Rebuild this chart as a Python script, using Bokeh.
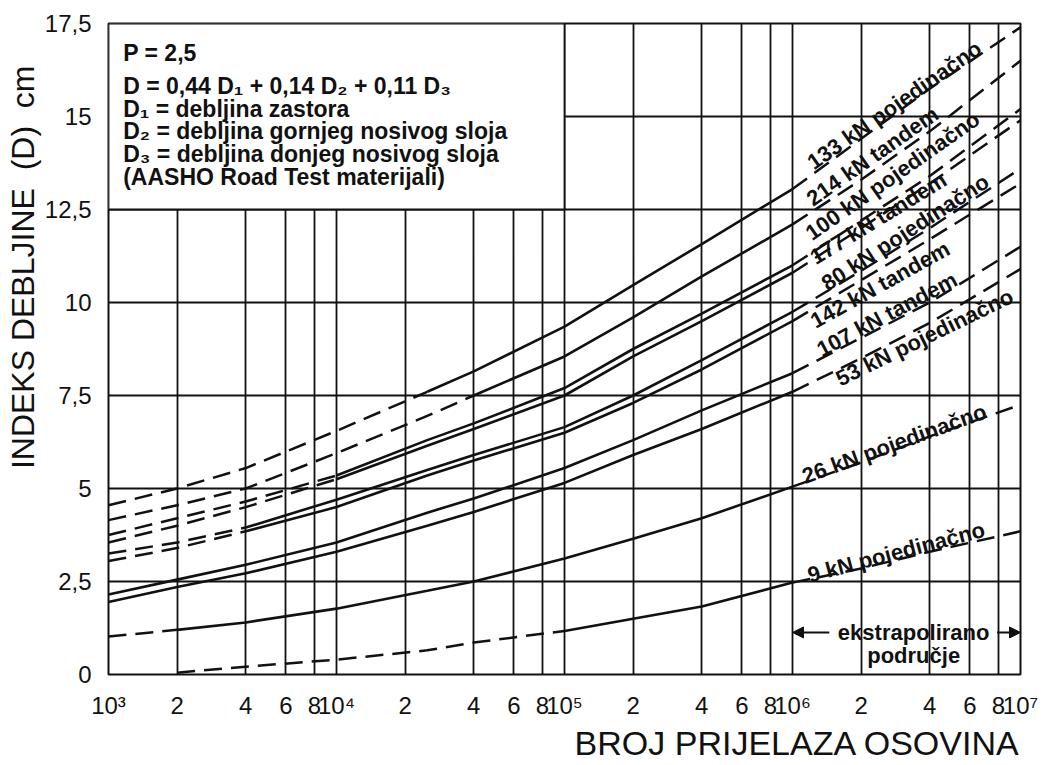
import math
from bokeh.plotting import figure
from bokeh.models import FixedTicker, Title, Label, Arrow, NormalHead, ColumnDataSource
from bokeh.core.properties import value
from bokeh.embed import file_html
from bokeh.resources import INLINE

nan = float("nan")

# number of axle passes (x) at which values were read
N = [1e3, 2e3, 4e3, 1e4, 2.5e4, 4e4, 1e5, 2e5, 4e5, 1e6, 2e6, 4e6, 1e7]

load_labels = ["133 kN pojedinačno", "214 kN tandem", "100 kN pojedinačno",
               "177 kN tandem", "80 kN pojedinačno", "142 kN tandem",
               "107 kN tandem", "53 kN pojedinačno", "26 kN pojedinačno",
               "9 kN pojedinačno"]

D_133 = [4.55, 5.0, 5.55, 6.55, 7.6, 8.15, 9.35, 10.47, 11.57, 13.05, 14.4, 15.75, 17.4]
D_214 = [4.15, 4.55, 5.0, 5.95, 6.95, 7.5, 8.55, 9.6, 10.7, 12.1, 13.3, 14.6, 16.5]
D_100 = [3.75, 4.2, 4.65, 5.35, 6.3, 6.75, 7.7, 8.75, 9.7, 11.0, 12.2, 13.4, 15.2]
D_177 = [3.55, 4.0, 4.5, 5.25, 6.15, 6.6, 7.5, 8.55, 9.5, 10.8, 12.0, 13.2, 14.9]
D_80 = [3.25, 3.55, 3.95, 4.7, 5.5, 5.9, 6.65, 7.5, 8.45, 9.75, 10.85, 12.0, 13.6]
D_142 = [3.05, 3.4, 3.85, 4.5, 5.35, 5.75, 6.5, 7.3, 8.2, 9.5, 10.6, 11.7, 13.2]
D_107 = [2.15, 2.55, 2.95, 3.55, 4.35, 4.73, 5.55, 6.3, 7.1, 8.1, 9.05, 10.0, 11.5]
D_53 = [1.95, 2.35, 2.72, 3.3, 4.0, 4.37, 5.15, 5.9, 6.6, 7.6, 8.5, 9.45, 10.9]
D_26 = [1.02, 1.2, 1.4, 1.77, 2.25, 2.5, 3.12, 3.65, 4.2, 5.05, 5.7, 6.4, 7.25]
D_9 = [nan, 0.05, 0.21, 0.4, 0.65, 0.86, 1.17, 1.5, 1.83, 2.47, 2.85, 3.3, 3.85]

curves = [D_133, D_214, D_100, D_177, D_80, D_142, D_107, D_53, D_26, D_9]

# measured (AASHO Road Test) range of each curve; outside it the curve is dashed
solid_from = [2.5e4, 4e4, 1e4, 1e4, 4e3, 4e3, 1e3, 1e3, 2e3, 1e5]
solid_to = 1e6

# curve label placement: start (N), baseline offset from the curve (px), angle (deg)
label_at = [1.19e6, 1.18e6, 1.17e6, 1.22e6, 1.37e6, 1.22e6, 1.30e6, 1.57e6, 1.11e6, 1.17e6]
label_off = [12, 13, 20, 1, 8, -13, 9, -10, 6, 4]
label_deg = [35, 35, 35, 31.5, 33, 29, 28, 26, 20, 14.7]

x_ticks = [m * 10 ** e for e in range(3, 7) for m in (1, 2, 4, 6, 8)] + [1e7]
x_tick_text = {}
sup = {3: "10³", 4: "10⁴", 5: "10⁵", 6: "10⁶", 7: "10⁷"}
for e in range(3, 8):
    x_tick_text[float(10 ** e)] = sup[e]
for e in range(3, 7):
    for m in (2, 4, 6, 8):
        x_tick_text[float(m * 10 ** e)] = str(m)

y_ticks = [0, 2.5, 5, 7.5, 10, 12.5, 15, 17.5]
y_tick_text = {0: "0", 2.5: "2,5", 5: "5", 7.5: "7,5", 10: "10", 12.5: "12,5", 15: "15", 17.5: "17,5"}

box_lines = ["P = 2,5",
             "D = 0,44 D₁ + 0,14 D₂ + 0,11 D₃",
             "D₁ = debljina zastora",
             "D₂ = debljina gornjeg nosivog sloja",
             "D₃ = debljina donjeg nosivog sloja",
             "(AASHO Road Test materijali)"]

INK = "#111111"
FONT = "Liberation Sans"

W, H = 1046, 765
BL, BR, BT, BB = 108, 26, 23, 90
FW, FH = W - BL - BR, H - BT - BB

p = figure(width=W, height=H, x_axis_type="log", x_range=(1e3, 1e7), y_range=(0, 17.5),
           output_backend="svg", toolbar_location=None, title=None,
           min_border_left=BL, min_border_right=BR, min_border_top=BT, min_border_bottom=BB)
p.background_fill_color = "white"
p.border_fill_color = "white"
p.outline_line_color = INK
p.outline_line_width = 2

p.xgrid.ticker = FixedTicker(ticks=x_ticks)
p.ygrid.ticker = FixedTicker(ticks=y_ticks)
for g in (p.xgrid, p.ygrid):
    g.grid_line_color = INK
    g.grid_line_width = 1.8
    g.grid_line_alpha = 1.0

p.xaxis.ticker = FixedTicker(ticks=x_ticks)
p.xaxis.major_label_overrides = x_tick_text
p.yaxis.ticker = FixedTicker(ticks=y_ticks)
p.yaxis.major_label_overrides = y_tick_text
for ax in (p.xaxis, p.yaxis):
    ax.axis_line_color = None
    ax.major_tick_line_color = None
    ax.minor_tick_line_color = None
    ax.major_label_text_font = FONT
    ax.major_label_text_font_size = "24px"
    ax.major_label_text_color = INK
p.xaxis.major_label_standoff = 11
p.yaxis.major_label_standoff = 11

# legend box (covers grid)
p.quad(left=[1e3], right=[1e5], bottom=[12.5], top=[17.5], fill_color="white",
       line_color=INK, line_width=1.8)
box_y = [16.72, 15.81, 15.2, 14.6, 13.98, 13.37]
for t, yy in zip(box_lines, box_y):
    p.add_layout(Label(x=1.16e3, y=yy, text=t, text_font=FONT, text_font_style="bold",
                       text_font_size="23px", text_color=INK, text_baseline="middle"))

# curves
DASH = "18 9"
for D, s0 in zip(curves, solid_from):
    pre = [(n, d) for n, d in zip(N, D) if n <= s0]
    mid = [(n, d) for n, d in zip(N, D) if s0 <= n <= solid_to]
    post = [(n, d) for n, d in zip(N, D) if n >= solid_to]
    if len(pre) > 1:
        p.line([a for a, b in pre], [b for a, b in pre], line_color=INK, line_width=2.5, line_dash=DASH)
    p.line([a for a, b in mid], [b for a, b in mid], line_color=INK, line_width=2.6)
    p.line([a for a, b in post], [b for a, b in post], line_color=INK, line_width=2.5, line_dash=DASH)

# curve labels, placed along the curves
px_unit = FH / 17.5
i6, i2 = N.index(1e6), N.index(2e6)
lab = dict(x=[], y=[], text=[], angle=[])
for D, txt, xa, off, deg in zip(curves, load_labels, label_at, label_off, label_deg):
    t = math.log10(xa / 1e6) / math.log10(2)
    yl = D[i6] + t * (D[i2] - D[i6]) + off / px_unit
    lab["x"].append(xa)
    lab["y"].append(yl)
    lab["text"].append(txt)
    lab["angle"].append(math.radians(deg))

p.text(x="x", y="y", text="text", angle="angle", source=ColumnDataSource(lab),
       text_font=value(FONT), text_font_style="bold", text_font_size="22px",
       text_color=INK, text_baseline="alphabetic", text_align="left")

# extrapolated-region note
p.add_layout(Arrow(end=NormalHead(size=11, fill_color=INK, line_color=INK),
                   x_start=1.45e6, y_start=1.13, x_end=1e6, y_end=1.13,
                   line_color=INK, line_width=2))
p.add_layout(Arrow(end=NormalHead(size=11, fill_color=INK, line_color=INK),
                   x_start=7.9e6, y_start=1.13, x_end=1e7, y_end=1.13,
                   line_color=INK, line_width=2))
p.add_layout(Label(x=3.4e6, y=1.13, text="ekstrapolirano", text_font=FONT, text_font_style="bold",
                   text_font_size="22px", text_color=INK, text_align="center", text_baseline="middle"))
p.add_layout(Label(x=3.4e6, y=0.52, text="područje", text_font=FONT, text_font_style="bold",
                   text_font_size="22px", text_color=INK, text_align="center", text_baseline="middle"))

# axis titles
p.add_layout(Title(text="INDEKS DEBLJINE\u00a0 (D)\u00a0 cm", align="right", offset=42,
                   text_font=FONT, text_font_size="32px", text_font_style="normal",
                   text_color=INK, standoff=2), "left")
p.add_layout(Title(text="BROJ PRIJELAZA OSOVINA", align="right", vertical_align="top",
                   text_font=FONT, text_font_size="34px", text_font_style="normal",
                   text_color=INK, standoff=4), "below")

open("out.html", "w").write(file_html(p, INLINE))
